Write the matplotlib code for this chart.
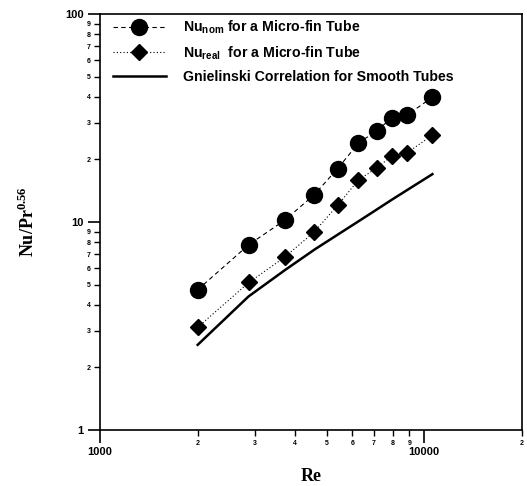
import matplotlib.pyplot as plt
from matplotlib.ticker import FixedLocator, FixedFormatter

# Re values
re_pts = [2000, 2880, 3710, 4570, 5410, 6270, 7140, 7950, 8850, 10600]
nu_nom = [4.73, 7.8, 10.2, 13.5, 18.1, 24.0, 27.5, 31.7, 32.7, 39.8]
nu_real = [3.12, 5.13, 6.78, 8.95, 12.05, 15.96, 18.2, 20.8, 21.5, 26.2]

# Gnielinski correlation
re_gn = [2000, 2870, 3730, 4600, 6650, 8000, 10600]
nu_gn = [2.57, 4.39, 5.9, 7.4, 10.7, 12.9, 17.0]

x_minor = [2000, 3000, 4000, 5000, 6000, 7000, 8000, 9000, 20000]
x_minor_labels = ['2', '3', '4', '5', '6', '7', '8', '9', '2']
y_minor = [2, 3, 4, 5, 6, 7, 8, 9, 20, 30, 40, 50, 60, 70, 80, 90]
y_minor_labels = ['2', '3', '4', '5', '6', '7', '8', '9'] * 2

fig = plt.figure(figsize=(5.27, 4.86), dpi=100)
ax = fig.add_axes([0.19, 0.115, 0.8, 0.856])

ax.plot(re_pts, nu_nom, color='black', ls=(0, (4, 3)), lw=0.8, marker='o', ms=11.5,
        label='Nu$_{\\mathregular{nom}}$ for a Micro-fin Tube')
ax.plot(re_pts, nu_real, color='black', ls=(0, (1, 2)), lw=0.8, marker='D', ms=8.5,
        label='Nu$_{\\mathregular{real}}$  for a Micro-fin Tube')
ax.plot(re_gn, nu_gn, color='black', lw=1.8,
        label='Gnielinski Correlation for Smooth Tubes')

ax.set_xscale('log')
ax.set_yscale('log')
ax.set_xlim(1000, 20000)
ax.set_ylim(1, 100)

ax.xaxis.set_major_locator(FixedLocator([1000, 10000]))
ax.xaxis.set_major_formatter(FixedFormatter(['1000', '10000']))
ax.xaxis.set_minor_locator(FixedLocator(x_minor))
ax.xaxis.set_minor_formatter(FixedFormatter(x_minor_labels))
ax.yaxis.set_major_locator(FixedLocator([1, 10, 100]))
ax.yaxis.set_major_formatter(FixedFormatter(['1', '10', '100']))
ax.yaxis.set_minor_locator(FixedLocator(y_minor))
ax.yaxis.set_minor_formatter(FixedFormatter(y_minor_labels))

ax.tick_params(which='major', direction='out', length=9, width=1.2, labelsize=8, pad=3)
ax.tick_params(which='minor', direction='out', length=4, width=1.0, labelsize=5, pad=3)
for lab in ax.get_xticklabels(which='both') + ax.get_yticklabels(which='both'):
    lab.set_fontweight('bold')
    lab.set_family('Liberation Sans')

for s in ax.spines.values():
    s.set_linewidth(1.2)

ax.set_xlabel('Re', family='Liberation Serif', fontsize=13, fontweight='bold', labelpad=8)
ax.set_ylabel('Nu/Pr$^{\\mathregular{0.56}}$', family='Liberation Serif', fontsize=13,
              fontweight='bold', labelpad=19)

leg = ax.legend(loc='upper left', bbox_to_anchor=(0.0, 1.02), frameon=False,
                handlelength=3.75, handletextpad=1.2, borderaxespad=0.5, borderpad=0.4,
                labelspacing=0.6,
                prop={'family': 'Liberation Sans', 'weight': 'bold', 'size': 10.2})

fig.savefig('out.png', dpi=100)
